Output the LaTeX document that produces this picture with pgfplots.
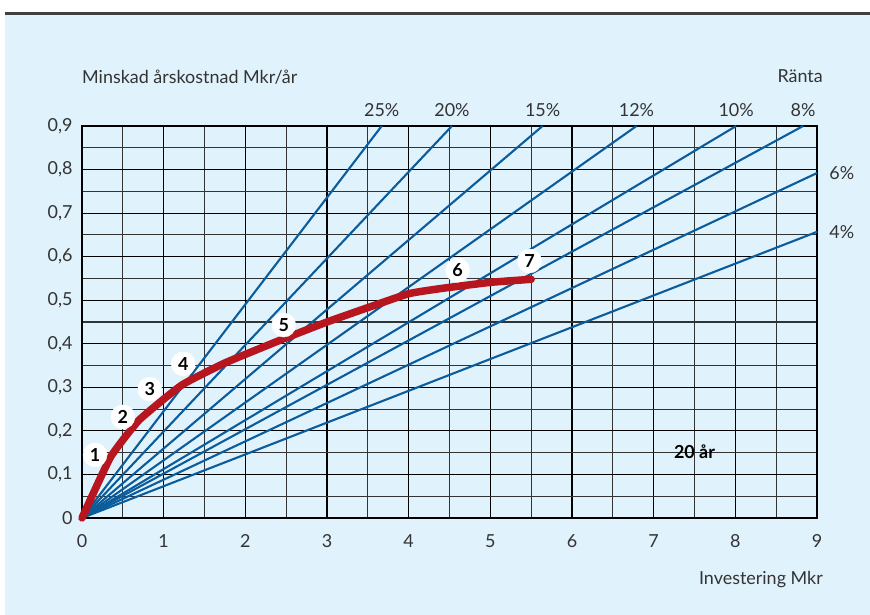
\documentclass[border=0pt]{standalone}
\usepackage{pgfplots}
\pgfplotsset{compat=1.18}
\usepackage{fontspec}
\setmainfont{Lato}
\definecolor{bgblue}{HTML}{E0F2FC}
\definecolor{lineblue}{HTML}{0A5C9C}
\definecolor{curvered}{HTML}{B8161F}
\definecolor{txt}{HTML}{333333}
\newcommand{\fs}{\fontsize{18}{20}\selectfont}
\begin{document}
\begin{tikzpicture}[x=1bp,y=1bp]
\useasboundingbox (-82,-97) rectangle (788,518);
\fill[white] (-82,-97) rectangle (788,518);
\fill[bgblue] (-77,-97) rectangle (788,503);
\draw[line width=2.2bp, black!75] (-77,504.5) -- (788,504.5);
\begin{axis}[
  at={(0,0)}, anchor=south west,
  scale only axis, width=735bp, height=392bp,
  xmin=0, xmax=9, ymin=0, ymax=0.9,
  xtick={0,...,9}, ytick={0,0.1,...,0.9},
  minor x tick num=1, minor y tick num=1,
  grid=both,
  major grid style={black, line width=1.1bp},
  minor grid style={black!80, line width=1.1bp},
  axis line style={black, line width=1.3bp},
  major tick length=0pt, minor tick length=0pt,
  /pgf/number format/assume math mode=true,
  /pgf/number format/use comma,
  /pgf/number format/fixed,
  tick label style={font=\fs, text=txt},
  yticklabel style={xshift=-6bp},
  xticklabel style={yshift=-13bp},
  clip=false,
]
\addplot[lineblue, line width=2.1bp] coordinates {(0,0) (3.67,0.9)} node[pos=1, above=5bp, font=\fs, text=txt] {25\%};
\addplot[lineblue, line width=2.1bp] coordinates {(0,0) (4.53,0.9)} node[pos=1, above=5bp, font=\fs, text=txt] {20\%};
\addplot[lineblue, line width=2.1bp] coordinates {(0,0) (5.64,0.9)} node[pos=1, above=5bp, font=\fs, text=txt] {15\%};
\addplot[lineblue, line width=2.1bp] coordinates {(0,0) (6.79,0.9)} node[pos=1, above=5bp, font=\fs, text=txt] {12\%};
\addplot[lineblue, line width=2.1bp] coordinates {(0,0) (8.01,0.9)} node[pos=1, above=5bp, font=\fs, text=txt] {10\%};
\addplot[lineblue, line width=2.1bp] coordinates {(0,0) (8.83,0.9)} node[pos=1, above=5bp, font=\fs, text=txt] {8\%};
\addplot[lineblue, line width=2.1bp] coordinates {(0,0) (9,0.792)} node[pos=1, right=8bp, font=\fs, text=txt] {6\%};
\addplot[lineblue, line width=2.1bp] coordinates {(0,0) (9,0.657)} node[pos=1, right=8bp, font=\fs, text=txt] {4\%};
\addplot[curvered, line width=7.5bp, line cap=round, line join=round, smooth, tension=0.25] coordinates {
(0,0) (0.35,0.14) (0.7,0.225) (1.22,0.305) (1.75,0.356) (2.45,0.41) (3.0,0.45) (3.5,0.483) (4.0,0.515) (4.4,0.527) (5.0,0.541) (5.5,0.548)};
\addplot[white, only marks, mark=*, mark size=12bp, mark options={fill=white, draw=white},
  nodes near coords, point meta=explicit symbolic,
  every node near coord/.style={anchor=center, font=\bfseries\fs, text=black}]
  table[meta=lab] {
x y lab
0.16 0.145 1
0.50 0.232 2
0.83 0.296 3
1.24 0.354 4
2.47 0.443 5
4.60 0.569 6
5.48 0.590 7
};
\node[font=\bfseries\fs, text=black] at (axis cs:7.5,0.153) {20 år};
\node[anchor=west, inner sep=0pt, font=\fs, text=txt] at ([yshift=49bp]rel axis cs:0,1) {Minskad årskostnad Mkr/år};
\node[anchor=east, inner sep=0pt, font=\fs, text=txt] at ([xshift=6bp,yshift=50bp]rel axis cs:1,1) {Ränta};
\node[anchor=east, inner sep=0pt, font=\fs, text=txt] at ([xshift=6bp,yshift=-62bp]rel axis cs:1,0) {Investering Mkr};
\end{axis}
\end{tikzpicture}
\end{document}
